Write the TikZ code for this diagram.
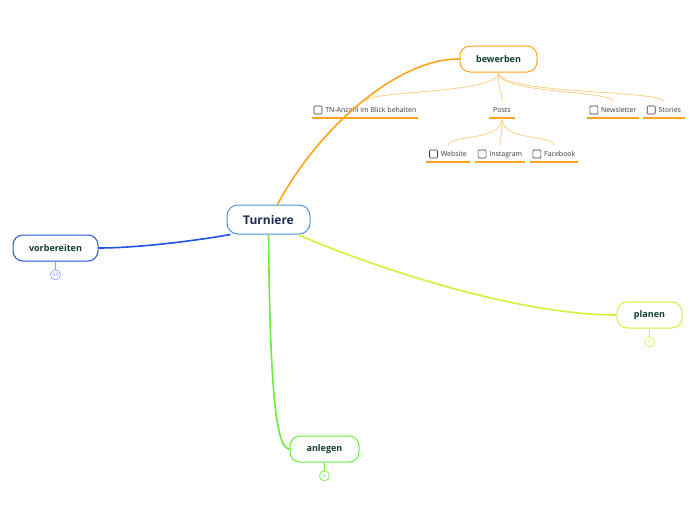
\documentclass[tikz,border=0pt]{standalone}
\usepackage{fontspec}
\setmainfont{Open Sans}
\usepackage{xcolor}
\usetikzlibrary{calc,positioning}

\definecolor{bewerbenorange}{HTML}{FFA31A}
\definecolor{sublineorange}{HTML}{FFCF8A}
\definecolor{vorbblue}{HTML}{1F52E6}
\definecolor{circleblue}{HTML}{7FA2FF}
\definecolor{centerblue}{HTML}{4A92D8}
\definecolor{centertext}{HTML}{1B2A4E}
\definecolor{planenlime}{HTML}{D2F23A}
\definecolor{anlegengreen}{HTML}{66EE3A}
\definecolor{topictext}{HTML}{0F3D2E}
\definecolor{itemtext}{HTML}{3A3A3A}

\newcommand{\chkbox}{\tikz[baseline=0pt]\draw[itemtext, line width=0.6pt, rounded corners=1pt] (0pt,-1.5pt) rectangle (8pt,6.5pt);\hspace{3pt}}

\begin{document}
\begin{tikzpicture}[
  x=1pt, y=-1pt,
  centre/.style={draw=centerblue, line width=1pt, rounded corners=11pt, fill=white,
                 minimum width=83pt, minimum height=29pt, inner sep=0pt,
                 font=\fontsize{12}{14}\selectfont\bfseries, text=centertext},
  topic/.style={draw, line width=1pt, rounded corners=10pt, fill=white,
                minimum height=26pt, inner sep=0pt,
                font=\fontsize{9}{11}\selectfont\bfseries, text=topictext},
  item/.style={inner sep=0pt, minimum height=16pt, align=center,
               font=\fontsize{7}{8}\selectfont, text=itemtext},
  underline/.style={draw=bewerbenorange, line width=1.6pt},
  branch/.style={line width=1.6pt},
  subline/.style={draw=sublineorange, line width=0.8pt},
  counter/.style={circle, draw, line width=0.6pt, minimum size=10pt, inner sep=0pt,
                  font=\fontsize{5}{6}\selectfont},
]
\useasboundingbox (0,0) rectangle (696,520);

% main topics
\node[centre] (turniere) at (268.5,219.5) {Turniere};
\node[topic, draw=bewerbenorange, minimum width=77pt] (bewerben) at (498.5,59) {bewerben};
\node[topic, draw=vorbblue, minimum width=85pt] (vorbereiten) at (55.5,248) {vorbereiten};
\node[topic, draw=planenlime, minimum width=65pt] (planen) at (649.5,315) {planen};
\node[topic, draw=anlegengreen, minimum width=69pt] (anlegen) at (324.5,449) {anlegen};

% collapsed counters
\node[counter, draw=circleblue, text=circleblue, below=8pt of vorbereiten.south] (vorbcount) {64};
\node[counter, draw=planenlime, text=planenlime, below=8pt of planen.south] (planencount) {4};
\node[counter, draw=anlegengreen, text=anlegengreen, below=8pt of anlegen.south] (anlegencount) {6};
\draw[circleblue, line width=0.8pt] (vorbereiten.south) -- (vorbcount.north);
\draw[planenlime, line width=0.8pt] (planen.south) -- (planencount.north);
\draw[anlegengreen, line width=0.8pt] (anlegen.south) -- (anlegencount.north);

% items under bewerben
\node[item, minimum width=106pt] (tn) at (365,110) {\chkbox TN-Anzahl im Blick behalten};
\node[item, minimum width=26pt] (posts) at (502,110) {Posts};
\node[item, minimum width=52pt] (news) at (613,110) {\chkbox Newsletter};
\node[item, minimum width=42pt] (stories) at (664,110) {\chkbox Stories};
\node[item, minimum width=44pt] (web) at (448,154) {\chkbox Website};
\node[item, minimum width=50pt] (insta) at (500,154) {\chkbox Instagram};
\node[item, minimum width=48pt] (face) at (554,154) {\chkbox Facebook};

\foreach \n in {tn,posts,news,stories,web,insta,face}
  \draw[underline] (\n.south west) -- (\n.south east);

% sub connectors
\foreach \n in {tn,posts,news,stories}
  \draw[subline] (bewerben.south) .. controls +(0,22) and +(0,-12) .. (\n.north);
\foreach \n in {web,insta,face}
  \draw[subline] (posts.south) .. controls +(0,24) and +(0,-12) .. (\n.north);

% branches
\draw[branch, bewerbenorange] ([xshift=9pt]turniere.north)
  .. controls (320,125) and (400,58) .. (bewerben.west);
\draw[branch, vorbblue] ([xshift=-38pt]turniere.south)
  .. controls (200,240) and (140,248) .. (vorbereiten.east);
\draw[branch, planenlime] ([xshift=29pt]turniere.south)
  .. controls (380,270) and (520,315) .. (planen.west);
\draw[branch, anlegengreen] (turniere.south)
  .. controls (270,380) and (275,449) .. (anlegen.west);

\end{tikzpicture}
\end{document}
